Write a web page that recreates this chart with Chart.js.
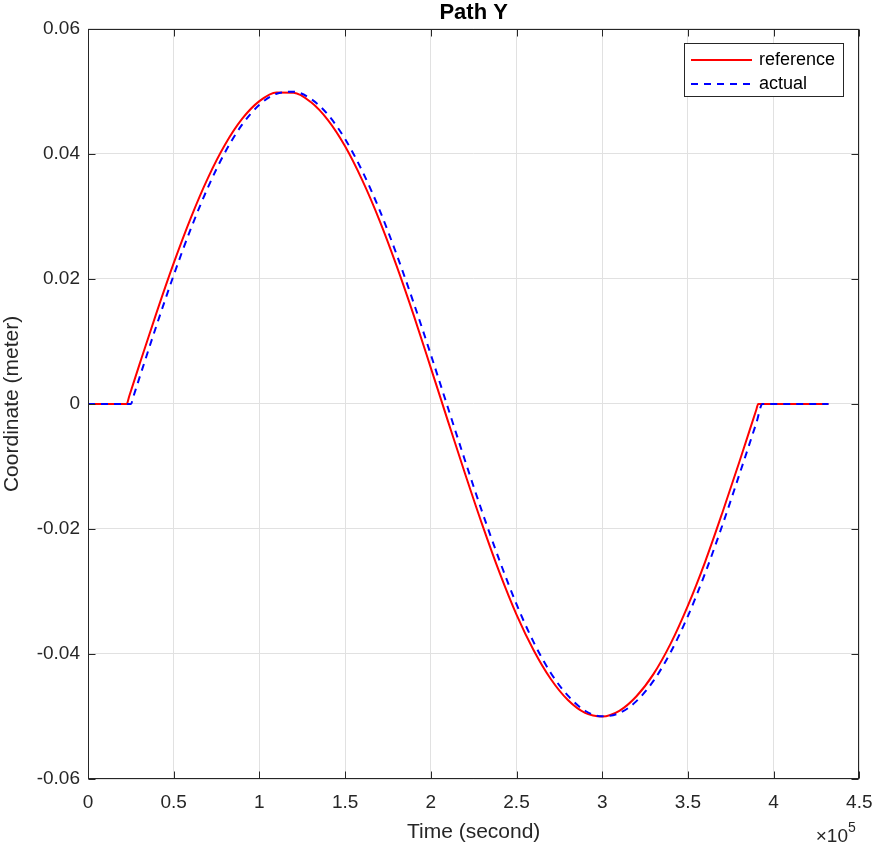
<!DOCTYPE html>
<html>
<head>
<meta charset="utf-8">
<title>Path Y</title>
<script src="https://cdn.jsdelivr.net/npm/chart.js@4.4.1/dist/chart.umd.min.js"></script>
<style>
  html, body { margin: 0; padding: 0; background: #fff; }
  #wrap { width: 876px; height: 847px; }
</style>
</head>
<body>
<div id="wrap"><canvas id="chart-path-y"></canvas></div>
<script>
// time in seconds, coordinate in meters
const timeRef = [0, 22600, 24000, 30000, 40000, 50000, 60000, 70000, 80000, 90000, 100000,
    110000, 120000, 130000, 140000, 150000, 160000, 170000, 180000, 190000, 200000,
    210000, 220000, 230000, 240000, 250000, 260000, 270000, 280000, 290000, 300000,
    310000, 320000, 330000, 340000, 350000, 360000, 370000, 380000, 390000, 391000, 432000];
const yRef = [0, 0, 0.00119, 0.00629, 0.01462, 0.02253, 0.02978, 0.03617, 0.04150, 0.04563, 0.04844,
    0.04983, 0.04980, 0.04830, 0.04541, 0.04122, 0.03580, 0.02941, 0.02212, 0.01420, 0.00578,
    -0.00274, -0.01117, -0.01931, -0.02691, -0.03370, -0.03940, -0.04400, -0.04737, -0.04942, -0.04999,
    -0.04909, -0.04676, -0.04318, -0.03831, -0.03226, -0.02529, -0.01748, -0.00928, -0.00084, 0, 0];

const timeAct = [0, 25100, 26500, 30000, 40000, 50000, 60000, 70000, 80000, 90000, 100000,
    110000, 120000, 130000, 140000, 150000, 160000, 170000, 180000, 190000, 200000,
    210000, 220000, 230000, 240000, 250000, 260000, 270000, 280000, 290000, 300000,
    310000, 320000, 330000, 340000, 350000, 360000, 370000, 380000, 390000, 393500, 432000];
const yAct = [0, 0, 0.00119, 0.00417, 0.01257, 0.02060, 0.02803, 0.03465, 0.04028, 0.04472, 0.04786,
    0.04963, 0.04994, 0.04882, 0.04628, 0.04238, 0.03727, 0.03110, 0.02396, 0.01617, 0.00790,
    -0.00061, -0.00908, -0.01729, -0.02497, -0.03203, -0.03811, -0.04303, -0.04667, -0.04908, -0.04998,
    -0.04946, -0.04754, -0.04427, -0.03968, -0.03393, -0.02712, -0.01949, -0.01132, -0.00297, 0, 0];

const seriesNames = ['reference', 'actual'];
const xTicks = [0, 50000, 100000, 150000, 200000, 250000, 300000, 350000, 400000, 450000];
const yTicks = [-0.06, -0.04, -0.02, 0, 0.02, 0.04, 0.06];

const FONT = 'Liberation Sans, Arial, Helvetica, sans-serif';
const INK = '#262626';

// box, inward ticks, legend and the x10^5 exponent, matlab style
const axesBox = {
    id: 'axesBox',
    afterDraw(chart) {
        const { ctx, chartArea: a, scales } = chart;
        const L = Math.round(a.left) + 0.5, R = Math.round(a.right) - 0.5;
        const T = Math.round(a.top) + 0.5, B = Math.round(a.bottom) - 0.5;
        ctx.save();
        ctx.strokeStyle = INK;
        ctx.lineWidth = 1;
        ctx.setLineDash([]);
        ctx.strokeRect(L, T, R - L, B - T);
        ctx.beginPath();
        xTicks.forEach(v => {
            const px = Math.round(scales.x.getPixelForValue(v)) + 0.5;
            ctx.moveTo(px, B); ctx.lineTo(px, B - 7);
            ctx.moveTo(px, T); ctx.lineTo(px, T + 7);
        });
        yTicks.forEach(v => {
            const py = Math.round(scales.y.getPixelForValue(v)) + 0.5;
            ctx.moveTo(L, py); ctx.lineTo(L + 7, py);
            ctx.moveTo(R, py); ctx.lineTo(R - 7, py);
        });
        ctx.stroke();

        // legend
        const lx = 684.5, ly = 43.5, lw = 159, lh = 53;
        ctx.fillStyle = '#fff';
        ctx.fillRect(lx, ly, lw, lh);
        ctx.strokeStyle = INK;
        ctx.strokeRect(lx, ly, lw, lh);
        ctx.font = '18px ' + FONT;
        ctx.textBaseline = 'middle';
        ctx.textAlign = 'left';
        [0, 1].forEach((i, k) => {
            const ds = chart.data.datasets[i];
            const y = 60 + k * 24;
            ctx.strokeStyle = ds.borderColor;
            ctx.lineWidth = ds.borderWidth;
            ctx.setLineDash(ds.borderDash || []);
            ctx.beginPath();
            ctx.moveTo(691, y); ctx.lineTo(752, y);
            ctx.stroke();
            ctx.setLineDash([]);
            ctx.fillStyle = '#000';
            ctx.fillText(ds.label, 759, y);
        });

        // exponent of the x axis
        ctx.fillStyle = INK;
        ctx.textBaseline = 'alphabetic';
        ctx.textAlign = 'right';
        ctx.font = '19px ' + FONT;
        ctx.fillText('\u00d710', 848, 842);
        ctx.textAlign = 'left';
        ctx.font = '14px ' + FONT;
        ctx.fillText('5', 848, 832);
        ctx.restore();
    }
};

const ctx = document.getElementById('chart-path-y');
const myChart = new Chart(ctx, {
    type: 'line',
    data: {
        datasets: [{
            label: seriesNames[0],
            data: timeRef.map((t, i) => ({ x: t, y: yRef[i] })),
            borderColor: 'rgb(255, 0, 0)',
            borderWidth: 2,
            pointRadius: 0,
            cubicInterpolationMode: 'monotone',
            order: 2
        }, {
            label: seriesNames[1],
            data: timeAct.map((t, i) => ({ x: t, y: yAct[i] })),
            borderColor: 'rgb(0, 0, 255)',
            borderWidth: 2,
            borderDash: [7, 6],
            pointRadius: 0,
            cubicInterpolationMode: 'monotone',
            order: 1
        }]
    },
    options: {
        responsive: true,
        maintainAspectRatio: false,
        devicePixelRatio: 1,
        animation: false,
        layout: { padding: { left: 0, right: 16.7, top: 0, bottom: 0 } },
        plugins: {
            legend: { display: false },
            tooltip: { enabled: false },
            title: {
                display: true,
                fullSize: false,
                text: 'Path Y',
                color: '#000',
                font: { family: FONT, size: 22, weight: 'bold' },
                padding: { top: 0, bottom: 2.5 }
            }
        },
        scales: {
            x: {
                type: 'linear',
                min: 0,
                max: 450000,
                afterBuildTicks: s => { s.ticks = xTicks.map(v => ({ value: v })); },
                afterFit: s => { s.height = 68; },
                ticks: {
                    color: INK,
                    font: { family: FONT, size: 19 },
                    padding: 0,
                    maxRotation: 0,
                    callback: v => String(Number((v / 100000).toFixed(2)))
                },
                // invisible tick marks only push the labels down
                grid: { color: '#e1e1e1', drawTicks: true, tickLength: 12, tickColor: 'rgba(0,0,0,0)' },
                border: { display: false },
                title: {
                    display: true,
                    text: 'Time (second)',
                    color: INK,
                    font: { family: FONT, size: 21 },
                    padding: { top: 0, bottom: 2 }
                }
            },
            y: {
                type: 'linear',
                min: -0.06,
                max: 0.06,
                afterBuildTicks: s => { s.ticks = yTicks.map(v => ({ value: v })); },
                afterFit: s => { s.width = 88; },
                ticks: {
                    color: INK,
                    font: { family: FONT, size: 19 },
                    padding: 8,
                    callback: v => String(Number(v.toFixed(2)))
                },
                grid: { color: '#e1e1e1', drawTicks: false },
                border: { display: false },
                title: {
                    display: true,
                    text: 'Coordinate (meter)',
                    color: INK,
                    font: { family: FONT, size: 21 },
                    padding: { top: 0, bottom: 0 }
                }
            }
        }
    },
    plugins: [axesBox]
});
</script>
</body>
</html>
